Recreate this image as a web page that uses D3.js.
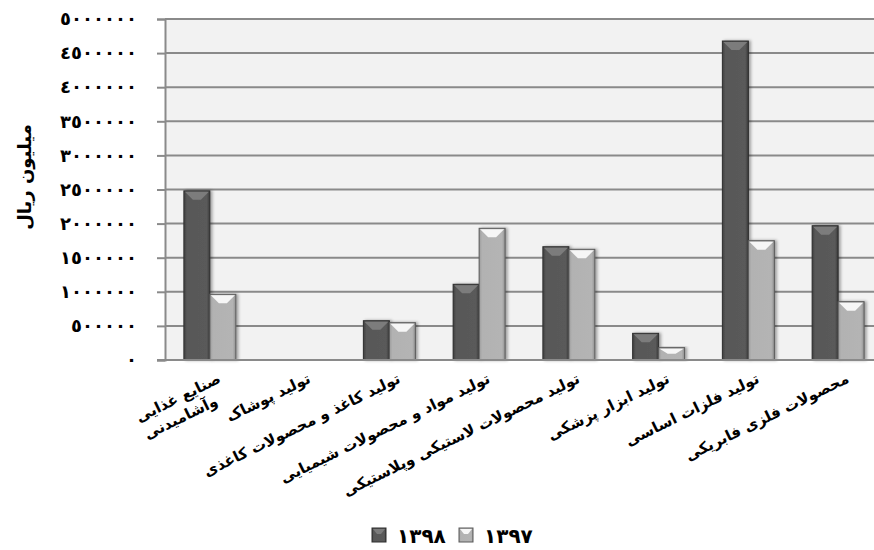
<!DOCTYPE html>
<html>
<head>
<meta charset="utf-8">
<script src="https://cdn.jsdelivr.net/npm/d3@7"></script>
<style>
  body { margin: 0; background: #fff; }
  text { font-family: "DejaVu Sans", sans-serif; font-weight: bold; }
</style>
</head>
<body>
<svg id="chart" width="874" height="550"></svg>
<script>
const categories = ['c1', 'c2', 'c3', 'c4', 'c5', 'c6', 'c7', 'c8']
const categoryLabels = [
  ['صنایع غذایی', 'وآشامیدنی'],
  ['تولید پوشاک'],
  ['تولید کاغذ و محصولات کاغذی'],
  ['تولید مواد و محصولات شیمیایی'],
  ['تولید محصولات لاستیکی وپلاستیکی'],
  ['تولید ابزار پزشکی'],
  ['تولید فلزات اساسی'],
  ['محصولات فلزی فابریکی']
]
const series = ['١٣٩٨', '١٣٩٧']
const values1398 = [2480000, 0, 576000, 1110000, 1661000, 391000, 4677000, 1969000]
const values1397 = [963000, 0, 547000, 1931000, 1623000, 181000, 1749000, 855000]
const yTicks = [0, 500000, 1000000, 1500000, 2000000, 2500000, 3000000, 3500000, 4000000, 4500000, 5000000]
const yTitle = 'میلیون ریال'

const svg = d3.select('#chart')
const plot = {left: 165, right: 883, top: 19, bottom: 360}

const toArabic = n => String(n).replace(/\d/g, d => '٠١٢٣٤٥٦٧٨٩'[d])

const x0 = d3.scaleBand().domain(categories).range([plot.left, plot.right]).padding(0)
const groupW = 52
const x1 = d3.scaleBand().domain(series).range([0, groupW])
const y = d3.scaleLinear().domain([0, 5000000]).range([plot.bottom, plot.top])

const defs = svg.append('defs')
const addGrad = (id, stops) => {
  const g = defs.append('linearGradient').attr('id', id).attr('x1', 0).attr('x2', 1).attr('y1', 0).attr('y2', 0)
  stops.forEach(s => g.append('stop').attr('offset', s[0]).attr('stop-color', s[1]))
}
addGrad('darkBody', [[0, '#404040'], [0.12, '#585858'], [0.88, '#5a5a5a'], [1, '#3a3a3a']])
addGrad('lightBody', [[0, '#9c9c9c'], [0.12, '#b2b2b2'], [0.88, '#b4b4b4'], [1, '#909090']])
defs.append('filter').attr('id', 'shadow').attr('x', '-20%').attr('width', '150%')
  .append('feDropShadow').attr('dx', 2).attr('dy', 0).attr('stdDeviation', 1.5).attr('flood-opacity', 0.35)

// plot background
svg.append('rect')
  .attr('x', plot.left).attr('y', plot.top)
  .attr('width', 874 - plot.left).attr('height', plot.bottom - plot.top)
  .attr('fill', '#f2f2f2')

// gridlines
svg.append('g').selectAll('line').data(yTicks).join('line')
  .attr('x1', plot.left).attr('x2', 874)
  .attr('y1', d => y(d)).attr('y2', d => y(d))
  .attr('stroke', '#8a8a8a').attr('stroke-width', 2)

// y axis
const yAxis = svg.append('g')
  .attr('transform', `translate(${plot.left},0)`)
  .call(d3.axisLeft(y).tickValues(yTicks).tickSize(8).tickPadding(20).tickFormat(toArabic))
yAxis.select('.domain').attr('stroke', '#8a8a8a').attr('stroke-width', 2)
yAxis.selectAll('.tick line').attr('stroke', '#8a8a8a').attr('stroke-width', 2)
yAxis.selectAll('.tick text')
  .style('font-family', '"DejaVu Sans", sans-serif')
  .style('font-weight', 'bold')
  .style('font-size', '18px')
  .style('letter-spacing', '1.8px')
  .attr('fill', '#000')

svg.append('text')
  .attr('transform', 'translate(31,177) rotate(-90)')
  .attr('text-anchor', 'middle')
  .style('font-size', '18px')
  .text(yTitle)

// bars
const rows = []
categories.forEach((c, i) => {
  rows.push({cat: c, s: series[0], v: values1398[i], kind: 'dark'})
  rows.push({cat: c, s: series[1], v: values1397[i], kind: 'light'})
})

const barX = d => x0(d.cat) + (x0.bandwidth() - groupW) / 2 + x1(d.s)
const bw = x1.bandwidth()

const bars = svg.append('g').selectAll('g.bar').data(rows.filter(d => d.v > 0)).join('g').attr('class', 'bar')
bars.append('rect')
  .attr('x', d => barX(d)).attr('y', d => y(d.v))
  .attr('width', bw).attr('height', d => y(0) - y(d.v))
  .attr('fill', d => d.kind === 'dark' ? 'url(#darkBody)' : 'url(#lightBody)')
  .attr('stroke', d => d.kind === 'dark' ? '#2e2e2e' : '#5a5a5a')
  .attr('stroke-width', 1)
  .style('filter', 'url(#shadow)')
// bevel on top of each bar
bars.append('polygon')
  .attr('points', d => {
    const x = barX(d), t = y(d.v), m = x + bw / 2
    const bev = Math.min(9, (y(0) - y(d.v)) / 2)
    return [[x + 1, t + 1], [x + bw - 1, t + 1], [m + 4, t + bev], [m - 4, t + bev]].join(' ')
  })
  .attr('fill', d => d.kind === 'dark' ? '#7c7c7c' : '#f6f6f6')

// x axis line
svg.append('line')
  .attr('x1', plot.left - 8).attr('x2', 874)
  .attr('y1', plot.bottom).attr('y2', plot.bottom)
  .attr('stroke', '#8a8a8a').attr('stroke-width', 2)

// category labels, rotated; one text element per line so bidi stays intact
// second line is aligned to the left end of the first
const labels = svg.append('g').selectAll('g').data(categories).join('g')
  .attr('transform', d => `translate(${x0(d) + x0.bandwidth() / 2 + 12},382) rotate(-26)`)
labels.each(function (d, i) {
  const g = d3.select(this)
  const first = g.append('text')
    .attr('x', 0).attr('y', 0)
    .attr('text-anchor', 'end')
    .style('font-size', '15px')
    .text(categoryLabels[i][0])
  if (categoryLabels[i].length > 1) {
    const w = first.node().getComputedTextLength()
    g.append('text')
      .attr('x', -w).attr('y', 19)
      .attr('text-anchor', 'start')
      .style('font-size', '15px')
      .text(categoryLabels[i][1])
  }
})

// legend
const legend = svg.append('g').attr('transform', 'translate(372,528)')
const legendItems = [{s: series[0], kind: 'dark', x: 0}, {s: series[1], kind: 'light', x: 87}]
legendItems.forEach(it => {
  const g = legend.append('g').attr('transform', `translate(${it.x},0)`)
  g.append('rect').attr('width', 14).attr('height', 14)
    .attr('fill', it.kind === 'dark' ? 'url(#darkBody)' : 'url(#lightBody)')
    .attr('stroke', it.kind === 'dark' ? '#2e2e2e' : '#5a5a5a')
  g.append('polygon').attr('points', '1,1 13,1 9,6 5,6')
    .attr('fill', it.kind === 'dark' ? '#7c7c7c' : '#f6f6f6')
  g.append('text').attr('x', 25).attr('y', 15).style('font-size', '20px').text(it.s)
})
</script>
</body>
</html>
